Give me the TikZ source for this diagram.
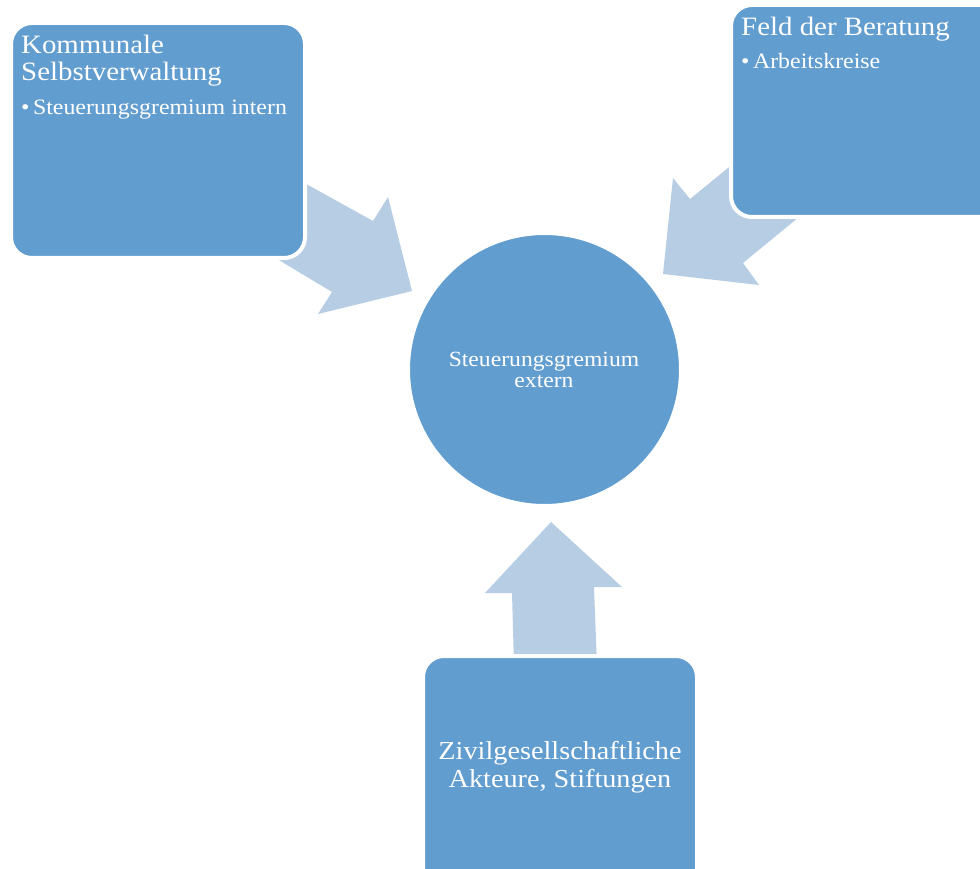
\documentclass[tikz,border=0pt]{standalone}
\usepackage{fontspec}
\setmainfont[FakeStretch=1.09]{Liberation Serif}
\definecolor{boxblue}{RGB}{98,157,208}
\definecolor{arrowblue}{RGB}{183,205,228}
\begin{document}
\begin{tikzpicture}[x=1pt,y=-1pt,
  panel/.style={fill=boxblue, draw=white, line width=4pt, rounded corners=21pt, inner sep=0pt},
  hub/.style={circle, fill=boxblue, draw=white, line width=4pt, inner sep=0pt, minimum size=273pt},
  blockarrow/.style={fill=arrowblue},
  txt/.style={text=white, inner sep=0pt},
  titletxt/.style={txt, anchor=base west, font=\fontsize{26.5}{27}\selectfont},
  itemtxt/.style={txt, anchor=base west, font=\fontsize{21.9}{24}\selectfont},
  hubtxt/.style={txt, anchor=base, font=\fontsize{21.7}{22}\selectfont},
  bottomtxt/.style={txt, anchor=base, font=\fontsize{25.9}{28}\selectfont}]
\useasboundingbox (0,0) rectangle (980,869);

% block arrows (behind the boxes)
\fill[blockarrow] (290,175) -- (373,221) -- (388,197) -- (412,291) -- (318,314) -- (332,292) -- (262,250) -- cycle;
\fill[blockarrow] (750,150) -- (690,199) -- (673,178) -- (663,274) -- (759,285) -- (743,263) -- (816,203) -- cycle;
\fill[blockarrow] (514,665) -- (512,593) -- (485,593) -- (551,522) -- (622,587) -- (594,587) -- (597,665) -- cycle;

% boxes
\node[panel, minimum width=294pt, minimum height=235pt] (kommunal) at (158,140.5) {};
\node[panel, minimum width=279pt, minimum height=212pt] (beratung) at (870.5,111) {};
\node[panel, minimum width=274pt, minimum height=244pt] (zivil) at (560,778) {};
\node[hub] (hub) at (544.5,369.5) {};

% texts
\node[titletxt] (k1) at (21,54) {Kommunale};
\node[titletxt] (k2) at (21,81) {Selbstverwaltung};
\node[itemtxt] (k3) at (21,115) {•\hspace{3.5pt}Steuerungsgremium intern};

\node[titletxt] (b1) at (741,36) {Feld der Beratung};
\node[itemtxt] (b2) at (741,69) {•\hspace{3.5pt}Arbeitskreise};

\node[hubtxt] (h1) at (544,366) {Steuerungsgremium};
\node[hubtxt] (h2) at (544,387) {extern};

\node[bottomtxt] (z1) at (560,759) {Zivilgesellschaftliche};
\node[bottomtxt] (z2) at (560,787) {Akteure, Stiftungen};
\end{tikzpicture}
\end{document}
